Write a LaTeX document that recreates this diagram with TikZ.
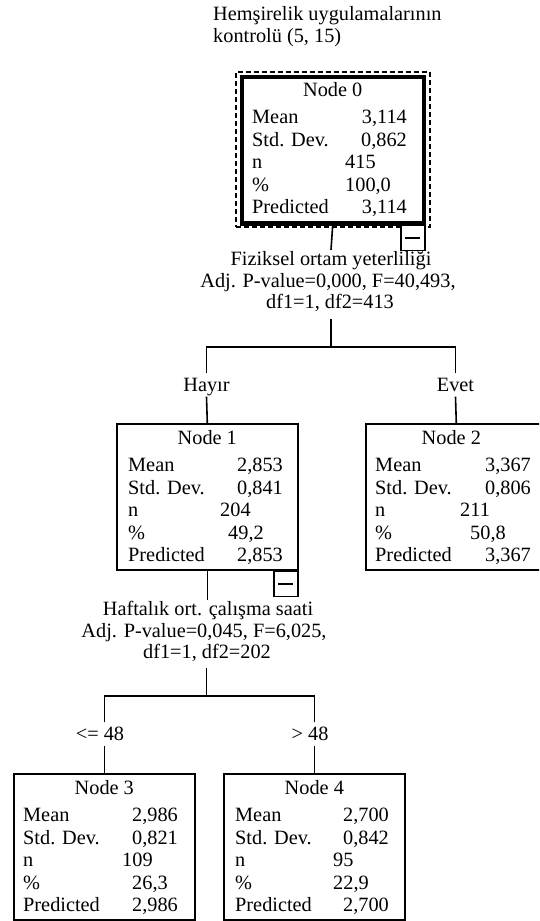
\documentclass[tikz,border=0pt]{standalone}
\usepackage{fontspec}
\setmainfont{Liberation Serif}
\usetikzlibrary{calc}
\tikzset{
  txt/.style={font=\fontsize{20.3}{22}\selectfont, inner sep=0pt},
  lab/.style={txt, anchor=base west},
  val/.style={txt, anchor=base east},
  valL/.style={txt, anchor=base west},
  ttl/.style={txt, anchor=base},
  leafbox/.style={draw, line width=1.6pt, minimum width=181pt, minimum height=146pt, anchor=north west, inner sep=0pt},
  rootbox/.style={draw, line width=3.5pt, minimum width=182pt, minimum height=146pt, anchor=north west, inner sep=0pt},
  rootframe/.style={draw, line width=1.5pt, dash pattern=on 5pt off 3pt, minimum width=194pt, minimum height=155pt, anchor=north west, inner sep=0pt},
  conn/.style={line width=1.6pt},
  brlab/.style={txt, anchor=base, text height=13pt, text depth=0pt, inner ysep=5pt},
  splitline/.style={txt, anchor=base, text height=13pt, text depth=4pt, inner ysep=2.5pt},
  minusbox/.style={draw, fill=white, line width=1.6pt, minimum width=24pt, minimum height=25pt, anchor=north east, inner sep=0pt},
  minusbar/.style={line width=1.6pt},
}
% #1 name #2 title #3 mean #4 sd #5 n #6 n-offset #7 pct #8 pct-offset #9 pred
\newcommand\statbox[9]{%
  \node[ttl] (#1-t) at ($(#1.north)+(\ttlx,21.5)$) {#2};
  \node[lab] (#1-l1) at ($(#1.north west)+(\labx,48.5)$) {Mean};
  \node[val] (#1-v1) at ($(#1.north west)+(\valx,48.5)$) {#3};
  \node[lab] (#1-l2) at ($(#1.north west)+(\labx,71)$) {Std. Dev.};
  \node[val] (#1-v2) at ($(#1.north west)+(\valx,71)$) {#4};
  \node[lab] (#1-l3) at ($(#1.north west)+(\labx,93.5)$) {n};
  \node[valL] (#1-v3) at ($(#1.north west)+(#6,93.5)$) {#5};
  \node[lab] (#1-l4) at ($(#1.north west)+(\labx,116)$) {\%};
  \node[valL] (#1-v4) at ($(#1.north west)+(#8,116)$) {#7};
  \node[lab] (#1-l5) at ($(#1.north west)+(\labx,138.5)$) {Predicted};
  \node[val] (#1-v5) at ($(#1.north west)+(\valx,138.5)$) {#9};
}
\begin{document}
\begin{tikzpicture}[x=1pt,y=-1pt]
\useasboundingbox (0,0) rectangle (539,921);
\clip (0,0) rectangle (539,921);
\fill[white] (0,0) rectangle (539,921);

% title
\node[txt, anchor=base west] (title1) at (213,20) {Hemşirelik uygulamalarının};
\node[txt, anchor=base west] (title2) at (213,42) {kontrolü (5, 15)};

% root node
\node[rootframe] (n0f) at (235,71) {};
\node[rootbox] (n0) at (240,75) {};
\node[minusbox] (m0) at (n0.south east) {};
\draw[minusbar] ($(m0.center)+(-7.5,0)$) -- ($(m0.center)+(7.5,0)$);
\draw[line width=3.5pt] (n0.south west) -- (n0.south east);
\def\ttlx{0}\def\labx{12}\def\valx{167}
\statbox{n0}{Node 0}{3,114}{0,862}{415}{105}{100,0}{105}{3,114}

% level 1 boxes
\node[leafbox] (n1) at (116,423) {};
\node[leafbox] (n2) at (365,423) {};
\node[minusbox] (m1) at (n1.south east) {};
\draw[minusbar] ($(m1.center)+(-7.5,0)$) -- ($(m1.center)+(7.5,0)$);
\def\ttlx{0}\def\labx{12}\def\valx{167}
\statbox{n1}{Node 1}{2,853}{0,841}{204}{104}{49,2}{112}{2,853}
\def\ttlx{-5}\def\labx{10}\def\valx{166}
\statbox{n2}{Node 2}{3,367}{0,806}{211}{95}{50,8}{105}{3,367}

% level 2 boxes
\node[leafbox] (n3) at (13,773) {};
\node[leafbox] (n4) at (223,773) {};
\def\ttlx{0}\def\labx{10}\def\valx{165}
\statbox{n3}{Node 3}{2,986}{0,821}{109}{109}{26,3}{119}{2,986}
\def\ttlx{0}\def\labx{12}\def\valx{166}
\statbox{n4}{Node 4}{2,700}{0,842}{95}{110}{22,9}{110}{2,700}

% first split
\node[splitline] (s0a) at (331,265.5) {Fiziksel ortam yeterliliği};
\node[splitline] (s0b) at (328,287) {Adj. P-value=0,000, F=40,493,};
\node[splitline] (s0c) at (330,308.5) {df1=1, df2=413};
\coordinate (j0) at (331,347);
\node[brlab] (l1) at (206.5,391.5) {Hayır};
\node[brlab] (l2) at (455.5,391.5) {Evet};
\draw[conn] (n0.south) -- (s0a.north);
\draw[conn, shorten <=4pt] (s0c.south -| j0) -- (j0);
\draw[conn] (l1.north) -- (l1.north |- j0) -- (l2.north |- j0) -- (l2.north);
\draw[conn] (l1.south) -- (n1.north);
\draw[conn] (l2.south) -- (n2.north);

% second split
\node[splitline] (s1a) at (208,615.5) {Haftalık ort. çalışma saati};
\node[splitline] (s1b) at (204,637) {Adj. P-value=0,045, F=6,025,};
\node[splitline] (s1c) at (207,658.5) {df1=1, df2=202};
\coordinate (j1) at (206.5,696);
\node[brlab] (l3) at (100,740.5) {<= 48};
\node[brlab] (l4) at (310,740.5) {> 48};
\draw[conn] (n1.south) -- (n1.south |- s1a.north);
\draw[conn, shorten <=3pt] (s1c.south -| j1) -- (j1);
\draw[conn] (n3.north |- l3.north) -- (n3.north |- j1) -- (n4.north |- j1) -- (n4.north |- l4.north);
\draw[conn] (n3.north |- l3.south) -- (n3.north);
\draw[conn] (n4.north |- l4.south) -- (n4.north);
\end{tikzpicture}
\end{document}
